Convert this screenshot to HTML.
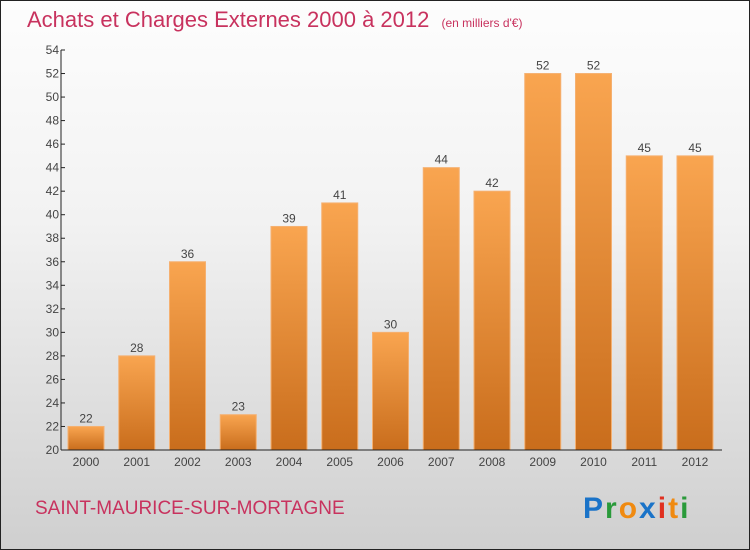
<!DOCTYPE html>
<html><head><meta charset="utf-8"><style>
body{margin:0}
#c{width:750px;height:550px;position:relative;box-sizing:border-box;border:1px solid #222;background:linear-gradient(#fdfdfd,#f2f2f2 40%,#cfcfcf);font-family:"Liberation Sans",sans-serif;overflow:hidden}
</style></head><body>
<div id="c">
<svg width="750" height="550" style="position:absolute;left:-1px;top:-1px">
<defs><linearGradient id="g" x1="0" y1="0" x2="0" y2="1"><stop offset="0" stop-color="#f9a550"/><stop offset="1" stop-color="#c96d1c"/></linearGradient></defs>
<text x="27" y="27" font-size="22" fill="#c8325e">Achats et Charges Externes 2000 à 2012 <tspan font-size="12" dx="6">(en milliers d'€)</tspan></text>
<g id="plot"></g>
<text x="35" y="514" font-size="19" fill="#c8325e">SAINT-MAURICE-SUR-MORTAGNE</text>
<text x="583" y="518" font-size="30" font-weight="bold" letter-spacing="2"><tspan fill="#1a73c8">P</tspan><tspan fill="#2a9a3a">r</tspan><tspan fill="#f08a10">o</tspan><tspan fill="#1a73c8">x</tspan><tspan fill="#e03020">i</tspan><tspan fill="#f08a10">t</tspan><tspan fill="#2a9a3a">i</tspan></text>
</svg>
</div>
<script>
const categories=["2000","2001","2002","2003","2004","2005","2006","2007","2008","2009","2010","2011","2012"];
const values=[22,28,36,23,39,41,30,44,42,52,52,45,45];
const yTicks=[20,22,24,26,28,30,32,34,36,38,40,42,44,46,48,50,52,54];
const y0=450,y1=50,vmin=20,vmax=54,x0=61;
const y=v=>y0-(v-vmin)/(vmax-vmin)*(y0-y1);
const x=i=>86+i*50.75;
const NS="http://www.w3.org/2000/svg",p=document.getElementById('plot');
function mk(t,a,txt){const e=document.createElementNS(NS,t);for(const k in a)e.setAttribute(k,a[k]);if(txt!=null)e.textContent=txt;p.appendChild(e);return e;}
values.forEach((v,i)=>{
const b=mk('rect',{x:x(i)-18,y:y(v),width:36,height:y0-y(v),fill:'url(#g)',stroke:'#f5b070','stroke-width':1});


const l=mk('text',{x:x(i),y:y(v)-4,'font-size':12,fill:'#444','text-anchor':'middle'},v);


const c=mk('text',{x:x(i),y:y0+16,'font-size':12,fill:'#444','text-anchor':'middle'},categories[i]);


});
yTicks.forEach(t=>{
const k=mk('line',{x1:x0,x2:x0+4,y1:y(t),y2:y(t),stroke:'#222'});


const l=mk('text',{x:x0-2,y:y(t)+4,'font-size':12,fill:'#444','text-anchor':'end'},t);


});
const ya=mk('line',{x1:x0,x2:x0,y1:y1,y2:y0,stroke:'#222'});


const xa=mk('line',{x1:x0,x2:722,y1:y0,y2:y0,stroke:'#222'});


</script>
</body></html>
